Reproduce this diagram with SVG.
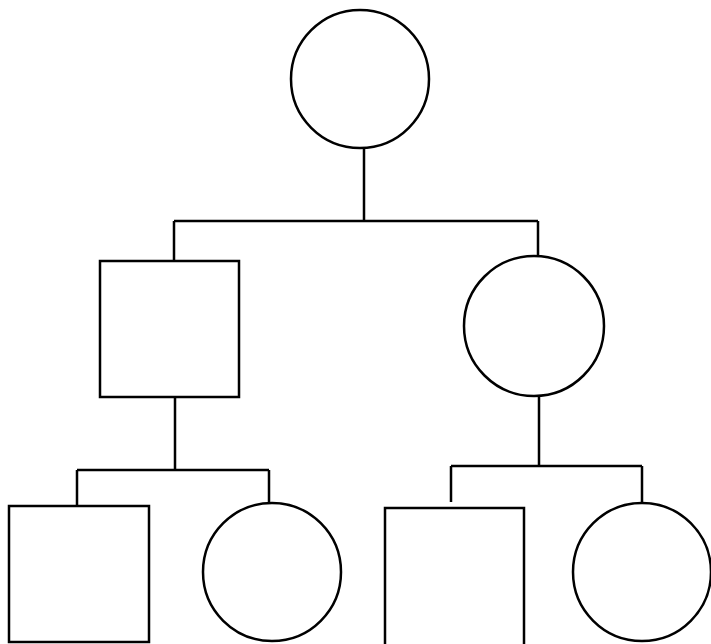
<svg xmlns="http://www.w3.org/2000/svg" width="711" height="644" viewBox="0 0 711 644">
<style>
.n{fill:none;stroke:#000;stroke-width:2.5}
.c{fill:none;stroke:#000;stroke-width:2.5}
</style>
<rect width="711" height="644" fill="#fff"/>
<g id="connectors" class="c">
<path d="M364 148V221M174 221H538M174 221V261M538 221V256"/>
<path d="M175 397V470M77 470H269M77 470V506M269 470V503"/>
<path d="M539 396V466M451 466H642M451 466V502M642 466V502"/>
</g>
<g id="n-root"><circle class="n" cx="360" cy="79" r="69"/></g>
<g id="n-left"><rect class="n" x="100" y="261" width="139" height="136"/></g>
<g id="n-right"><circle class="n" cx="534" cy="326" r="70"/></g>
<g id="n-ll"><rect class="n" x="9" y="506" width="140" height="136"/></g>
<g id="n-lr"><circle class="n" cx="272" cy="572" r="69"/></g>
<g id="n-rl"><rect class="n" x="385" y="508" width="139" height="150"/></g>
<g id="n-rr"><circle class="n" cx="642" cy="572" r="69"/></g>
</svg>
